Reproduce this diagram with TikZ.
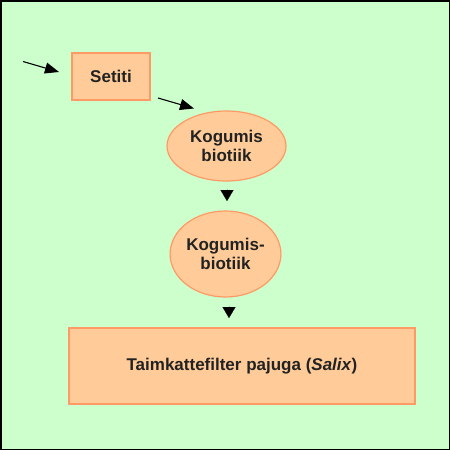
\documentclass[tikz,border=0pt]{standalone}
\usepackage{fontspec}
\setmainfont{Liberation Sans}
\usetikzlibrary{arrows.meta,shapes.geometric}
\definecolor{bggreen}{HTML}{CCFFCC}
\definecolor{boxfill}{HTML}{FFCC99}
\definecolor{boxline}{HTML}{FF9966}
\definecolor{txt}{HTML}{222222}
\tikzset{
  lbl/.style={font=\fontsize{17}{19}\selectfont\bfseries, text=txt, align=center},
  rbox/.style={lbl, draw=boxline, fill=boxfill, line width=1.2pt, inner sep=0pt, rectangle},
  ebox/.style={lbl, draw=boxline, fill=boxfill, line width=1.2pt, inner sep=0pt, ellipse},
  arr/.style={draw=black, line width=1.1pt, -{Triangle[length=14pt,width=11pt]}},
  tri/.style={draw=black, fill=black, -{Triangle[length=11pt,width=13pt]}, line width=0.01pt},
}
\begin{document}
\begin{tikzpicture}[x=1pt,y=-1pt]
\path[fill=bggreen, draw=black, line width=1.5pt] (0.75,0.75) rectangle (449.25,449.25);
\useasboundingbox (0,0) rectangle (450,450);
\node[rbox, minimum width=78pt, minimum height=47pt] (setiti) at (111,76.5) {Setiti};
\node[ebox, minimum width=119pt, minimum height=70pt] (e1) at (226.5,146) {Kogumis\\biotiik};
\node[ebox, minimum width=107pt, minimum height=86pt] (e2) at (225.5,254) {Kogumis-\\biotiik};
\node[rbox, minimum width=346pt, minimum height=76pt] (filt) at (242,366) {Taimkattefilter pajuga (\textit{Salix})};
\coordinate (a1s) at (23,61.5);
\coordinate (a1e) at (59,72);
\coordinate (a2s) at (158,98);
\coordinate (a2e) at (194,108.5);
\draw[arr] (a1s) -- (a1e);
\draw[arr] (a2s) -- (a2e);
\coordinate (t1a) at (227,189);
\coordinate (t1b) at (227,201);
\coordinate (t2a) at (229,306);
\coordinate (t2b) at (229,318);
\draw[tri] (t1a) -- (t1b);
\draw[tri] (t2a) -- (t2b);
\end{tikzpicture}
\end{document}
